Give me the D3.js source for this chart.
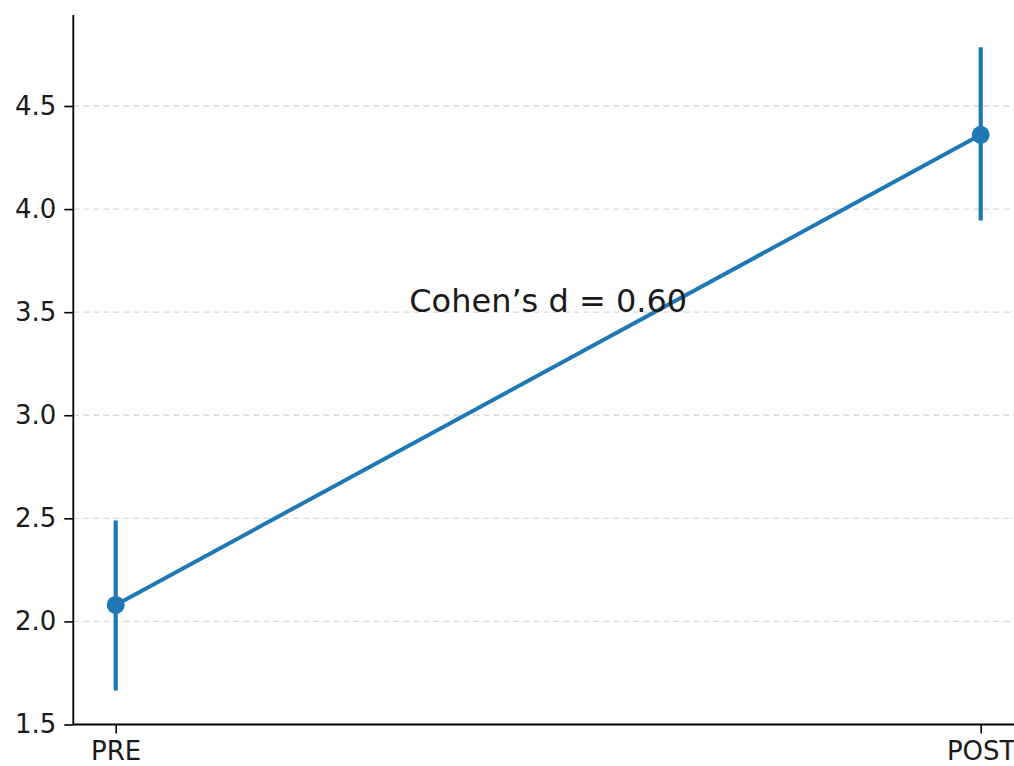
<!DOCTYPE html>
<html>
<head>
<meta charset="utf-8">
<script src="https://cdn.jsdelivr.net/npm/d3@7"></script>
<style>
  html, body { margin: 0; padding: 0; background: #fff; }
  svg { display: block; }
  text { font-family: "DejaVu Sans", sans-serif; fill: #1a1a1a; }
</style>
</head>
<body>
<svg id="chart" width="1014" height="766"></svg>
<script>
// Pre/post means with 95% confidence intervals
const phases = ["PRE", "POST"];
const means = [2.08, 4.36];
const ciLow = [1.665, 3.945];
const ciHigh = [2.49, 4.785];
const yTicks = [1.5, 2.0, 2.5, 3.0, 3.5, 4.0, 4.5];
const effectLabel = "Cohen\u2019s d = 0.60";
const effectPos = [0.5, 3.5];

const plotLeft = 73.3, plotRight = 1014, plotTop = 15, plotBottom = 724.5;
const color = "#1f77b4";

const svg = d3.select("#chart");

const x = d3.scaleLinear().domain([0, 1]).range([115.7, 980.7]);
const y = d3.scaleLinear().domain([1.5, 4.5]).range([plotBottom, 106]);

// dashed horizontal grid
svg.append("g")
  .selectAll("line")
  .data(yTicks.filter(t => t > 1.5))
  .join("line")
  .attr("x1", plotLeft).attr("x2", plotRight)
  .attr("y1", d => y(d)).attr("y2", d => y(d))
  .attr("stroke", "#d9d9d9")
  .attr("stroke-width", 1.3)
  .attr("stroke-dasharray", "6,4");

// y axis
const yAxis = d3.axisLeft(y)
  .tickValues(yTicks)
  .tickFormat(d3.format(".1f"))
  .tickSize(9)
  .tickPadding(8);
const gy = svg.append("g")
  .attr("transform", `translate(${plotLeft},0)`)
  .call(yAxis);
gy.select(".domain").remove();
gy.selectAll(".tick line").attr("stroke", "#000").attr("stroke-width", 1.6);
gy.selectAll(".tick text")
  .attr("font-size", 26)
  .attr("font-family", "DejaVu Sans, sans-serif")
  .attr("fill", "#1a1a1a");
svg.append("line")
  .attr("x1", plotLeft).attr("x2", plotLeft)
  .attr("y1", plotTop).attr("y2", plotBottom)
  .attr("stroke", "#000").attr("stroke-width", 1.8);

// x axis
const xAxis = d3.axisBottom(x)
  .tickValues([0, 1])
  .tickFormat(i => phases[i])
  .tickSize(9)
  .tickPadding(8);
const gx = svg.append("g")
  .attr("transform", `translate(0,${plotBottom})`)
  .call(xAxis);
gx.select(".domain").remove();
gx.selectAll(".tick line").attr("stroke", "#000").attr("stroke-width", 1.6);
gx.selectAll(".tick text")
  .attr("font-size", 26)
  .attr("font-family", "DejaVu Sans, sans-serif")
  .attr("fill", "#1a1a1a");
svg.append("line")
  .attr("x1", plotLeft).attr("x2", plotRight)
  .attr("y1", plotBottom).attr("y2", plotBottom)
  .attr("stroke", "#000").attr("stroke-width", 1.8);

// connecting line
const line = d3.line().x((d, i) => x(i)).y(d => y(d));
svg.append("path")
  .datum(means)
  .attr("d", line)
  .attr("fill", "none")
  .attr("stroke", color)
  .attr("stroke-width", 4);

// confidence interval bars
svg.append("g")
  .selectAll("line")
  .data(phases.map((p, i) => ({ i, lo: ciLow[i], hi: ciHigh[i] })))
  .join("line")
  .attr("x1", d => x(d.i)).attr("x2", d => x(d.i))
  .attr("y1", d => y(d.lo)).attr("y2", d => y(d.hi))
  .attr("stroke", color)
  .attr("stroke-width", 4.2);

// mean markers
svg.append("g")
  .selectAll("circle")
  .data(means)
  .join("circle")
  .attr("cx", (d, i) => x(i))
  .attr("cy", d => y(d))
  .attr("r", 9)
  .attr("fill", color);

// effect size annotation
svg.append("text")
  .attr("x", x(effectPos[0]))
  .attr("y", y(effectPos[1]))
  .attr("text-anchor", "middle")
  .attr("font-size", 32)
  .text(effectLabel);
</script>
</body>
</html>
